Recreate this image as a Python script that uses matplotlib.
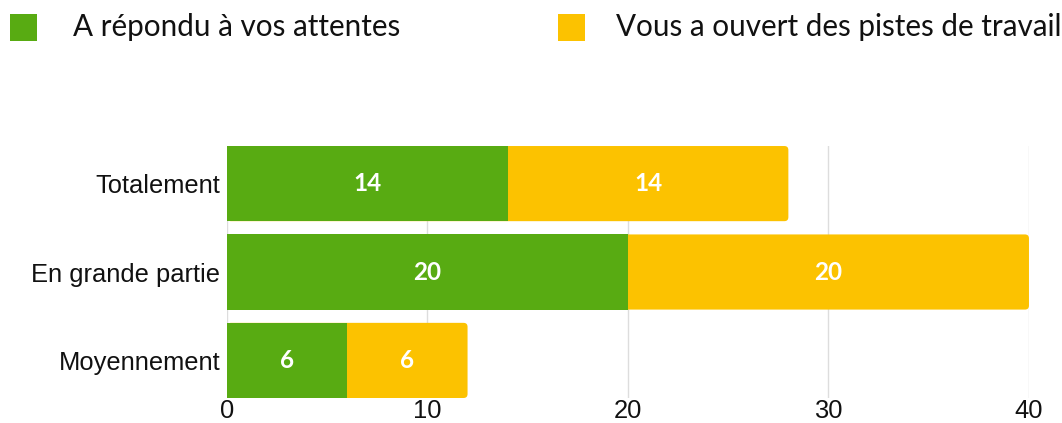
import matplotlib.pyplot as plt
from matplotlib.patches import FancyBboxPatch, Rectangle
import numpy as np

categories = ["Totalement", "En grande partie", "Moyennement"]
attentes = [14, 20, 6]
pistes = [14, 20, 6]
series_names = ["A répondu à vos attentes", "Vous a ouvert des pistes de travail"]
colors = ["#58ab12", "#fcc200"]
xticks = [0, 10, 20, 30, 40]

fig = plt.figure(figsize=(10.62, 4.23), dpi=100)
ax = fig.add_axes([0.2137, 0.0591, 0.7552, 0.5957])

y = np.arange(len(categories))[::-1]
h = 0.85

# px per data unit in x and y, used so the rounded corners stay circular
x_px = 0.7552 * 1062 / 40
y_px = 0.5957 * 423 / (2 + h)
r = 4 / x_px

for yi, a, p in zip(y, attentes, pistes):
    # yellow segment drawn from 0 so that its left corners hide under the green one
    ax.add_patch(FancyBboxPatch((0, yi - h / 2), a + p, h,
                                boxstyle=f"round,pad=0,rounding_size={r}",
                                mutation_aspect=x_px / y_px,
                                fc=colors[1], ec="none", zorder=2))
    ax.text(a + p / 2, yi, str(p), ha="center", va="center", color="white",
            fontsize=17.5, fontweight="bold", family="Lato", zorder=4)

ax.barh(y, attentes, height=h, color=colors[0], zorder=3)
for yi, a in zip(y, attentes):
    ax.text(a / 2, yi, str(a), ha="center", va="center", color="white",
            fontsize=17.5, fontweight="bold", family="Lato", zorder=4)

ax.set_xlim(0, 40)
ax.set_ylim(-h / 2, 2 + h / 2)
ax.set_xticks(xticks)
ax.set_yticks(y)
ax.set_yticklabels(categories)
for lab in ax.get_xticklabels() + ax.get_yticklabels():
    lab.set_family("Liberation Sans")
    lab.set_fontsize(18.4)
    lab.set_color("#111111")
ax.tick_params(length=0, pad=1)
ax.tick_params(axis="y", pad=5)
ax.grid(axis="x", color="#dddddd", lw=1, zorder=0)
for s in ax.spines.values():
    s.set_visible(False)

# legend row across the top
for x0, tx, name, c in [(10, 73, series_names[0], colors[0]),
                         (558, 616, series_names[1], colors[1])]:
    fig.patches.append(Rectangle((x0 / 1062, 1 - 41 / 423), 27 / 1062, 27 / 423,
                                 transform=fig.transFigure, fc=c, ec="none"))
    fig.text(tx / 1062, 1 - 27 / 423, name, ha="left", va="center",
             fontsize=21.3, family="Lato", color="#111111")

fig.savefig("out.png", dpi=100)
